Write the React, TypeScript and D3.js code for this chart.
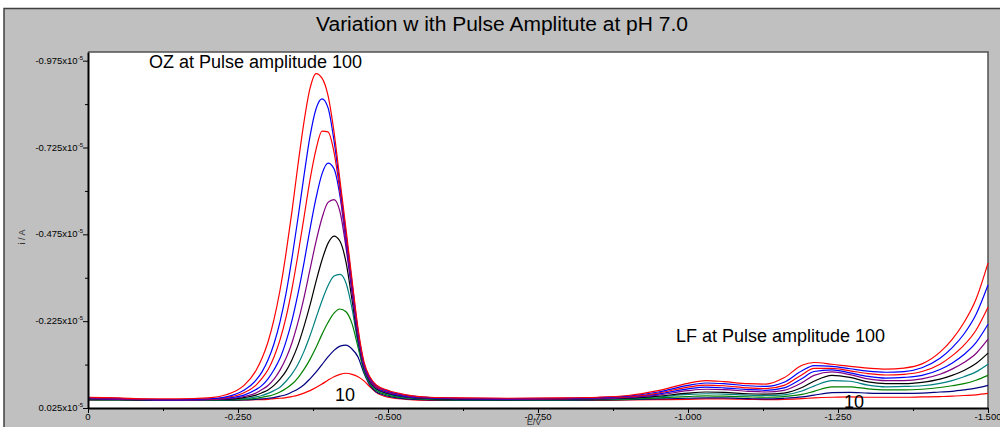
import React, { useEffect, useRef } from 'react';
import * as d3 from 'd3';

// E / V (shared by every curve)
const potentials = [
  0, -0.05, -0.10, -0.15, -0.20, -0.23, -0.26, -0.28, -0.29, -0.30, -0.31, -0.32, -0.33, -0.34,
  -0.35, -0.36, -0.37, -0.38, -0.39, -0.40, -0.41, -0.42, -0.43, -0.44, -0.45, -0.46, -0.47,
  -0.48, -0.50, -0.53, -0.57, -0.62, -0.70, -0.78, -0.85, -0.90, -0.95, -1.00, -1.03, -1.06,
  -1.10, -1.13, -1.16, -1.19, -1.21, -1.24, -1.27, -1.30, -1.33, -1.36, -1.39, -1.42, -1.44,
  -1.46, -1.48, -1.50,
];

// cathodic current magnitude, x10^-5 A (plotted upward)
const amp100 = [
  0.006, 0.004, 0.001, 0.001, 0.004, 0.013, 0.040, 0.083, 0.118, 0.165, 0.230, 0.314, 0.420, 0.542,
  0.676, 0.799, 0.895, 0.938, 0.925, 0.875, 0.770, 0.630, 0.490, 0.345, 0.205, 0.108, 0.064,
  0.042, 0.026, 0.013, 0.006, 0.004, 0.003, 0.004, 0.006, 0.011, 0.025, 0.046, 0.054, 0.051,
  0.045, 0.044, 0.062, 0.098, 0.106, 0.101, 0.095, 0.090, 0.087, 0.090, 0.102, 0.136, 0.172,
  0.221, 0.288, 0.392,
];
const amp90 = [
  0.005, 0.003, 0.000, -0.001, 0.001, 0.007, 0.026, 0.055, 0.079, 0.113, 0.160, 0.223, 0.304, 0.407,
  0.522, 0.644, 0.757, 0.836, 0.865, 0.840, 0.745, 0.615, 0.478, 0.337, 0.198, 0.103, 0.061,
  0.040, 0.024, 0.012, 0.005, 0.003, 0.002, 0.003, 0.005, 0.009, 0.021, 0.040, 0.047, 0.045,
  0.039, 0.037, 0.049, 0.082, 0.097, 0.095, 0.088, 0.081, 0.078, 0.080, 0.091, 0.118, 0.148,
  0.188, 0.244, 0.329,
];
const amp80 = [
  0.004, 0.002, 0.000, -0.001, 0.000, 0.005, 0.019, 0.041, 0.060, 0.085, 0.122, 0.171, 0.236, 0.319,
  0.417, 0.524, 0.632, 0.719, 0.772, 0.770, 0.712, 0.598, 0.465, 0.328, 0.192, 0.099, 0.058,
  0.037, 0.022, 0.011, 0.005, 0.003, 0.002, 0.002, 0.004, 0.007, 0.018, 0.035, 0.041, 0.039,
  0.033, 0.031, 0.040, 0.071, 0.089, 0.089, 0.082, 0.074, 0.070, 0.072, 0.080, 0.101, 0.125,
  0.156, 0.199, 0.265,
];
const amp70 = [
  0.003, 0.001, -0.001, -0.002, 0.000, 0.003, 0.012, 0.028, 0.040, 0.059, 0.085, 0.118, 0.166, 0.227,
  0.304, 0.393, 0.490, 0.579, 0.649, 0.680, 0.664, 0.585, 0.452, 0.318, 0.187, 0.096, 0.056,
  0.035, 0.020, 0.009, 0.004, 0.002, 0.001, 0.002, 0.003, 0.006, 0.015, 0.030, 0.035, 0.033,
  0.028, 0.026, 0.033, 0.060, 0.080, 0.085, 0.076, 0.066, 0.061, 0.063, 0.069, 0.086, 0.104,
  0.129, 0.163, 0.216,
];
const amp60 = [
  0.002, 0.000, -0.001, -0.002, -0.001, 0.001, 0.008, 0.018, 0.028, 0.040, 0.058, 0.084, 0.118, 0.163,
  0.222, 0.293, 0.374, 0.454, 0.522, 0.567, 0.575, 0.540, 0.437, 0.307, 0.181, 0.093, 0.053,
  0.033, 0.019, 0.008, 0.003, 0.001, 0.000, 0.001, 0.002, 0.005, 0.012, 0.025, 0.029, 0.028,
  0.023, 0.021, 0.026, 0.048, 0.069, 0.079, 0.071, 0.059, 0.054, 0.054, 0.059, 0.072, 0.087,
  0.106, 0.132, 0.173,
];
const amp50 = [
  0.001, 0.000, -0.002, -0.002, -0.001, 0.000, 0.005, 0.012, 0.019, 0.027, 0.040, 0.058, 0.081, 0.114,
  0.156, 0.210, 0.271, 0.339, 0.401, 0.449, 0.470, 0.455, 0.395, 0.287, 0.172, 0.089, 0.050,
  0.031, 0.017, 0.007, 0.002, 0.000, -0.001, 0.000, 0.001, 0.003, 0.009, 0.018, 0.021, 0.020,
  0.016, 0.015, 0.018, 0.034, 0.052, 0.069, 0.063, 0.050, 0.045, 0.045, 0.049, 0.058, 0.069,
  0.083, 0.103, 0.133,
];
const amp40 = [
  0.000, -0.001, -0.002, -0.003, -0.002, -0.001, 0.002, 0.007, 0.011, 0.017, 0.025, 0.035, 0.052, 0.073,
  0.101, 0.138, 0.183, 0.234, 0.284, 0.327, 0.355, 0.360, 0.335, 0.262, 0.160, 0.085, 0.047,
  0.029, 0.015, 0.005, 0.001, -0.001, -0.001, -0.001, 0.000, 0.002, 0.007, 0.014, 0.016, 0.015,
  0.012, 0.011, 0.013, 0.024, 0.038, 0.054, 0.052, 0.041, 0.036, 0.037, 0.039, 0.046, 0.054,
  0.065, 0.079, 0.101,
];
const amp30 = [
  -0.001, -0.002, -0.002, -0.003, -0.003, -0.002, 0.000, 0.003, 0.006, 0.009, 0.014, 0.021, 0.031, 0.044,
  0.062, 0.086, 0.115, 0.149, 0.187, 0.221, 0.248, 0.260, 0.252, 0.218, 0.150, 0.080, 0.044,
  0.026, 0.012, 0.004, 0.000, -0.002, -0.002, -0.002, -0.001, 0.000, 0.004, 0.008, 0.010, 0.009,
  0.007, 0.006, 0.008, 0.014, 0.023, 0.036, 0.036, 0.030, 0.027, 0.027, 0.029, 0.034, 0.039,
  0.045, 0.055, 0.069,
];
const amp20 = [
  -0.002, -0.002, -0.003, -0.003, -0.003, -0.003, -0.002, 0.000, 0.001, 0.003, 0.005, 0.009, 0.013, 0.021,
  0.030, 0.042, 0.059, 0.078, 0.100, 0.122, 0.141, 0.153, 0.156, 0.145, 0.122, 0.075, 0.040,
  0.022, 0.009, 0.001, -0.002, -0.003, -0.003, -0.003, -0.002, -0.001, 0.001, 0.003, 0.004, 0.004,
  0.002, 0.001, 0.003, 0.007, 0.012, 0.019, 0.020, 0.018, 0.017, 0.017, 0.018, 0.021, 0.023,
  0.027, 0.032, 0.040,
];
const amp10 = [
  -0.002, -0.002, -0.003, -0.003, -0.003, -0.003, -0.002, -0.001, -0.001, 0.000, 0.002, 0.003, 0.005, 0.008,
  0.012, 0.018, 0.025, 0.034, 0.044, 0.055, 0.065, 0.072, 0.075, 0.072, 0.065, 0.053, 0.036,
  0.020, 0.006, 0.000, -0.003, -0.003, -0.003, -0.003, -0.003, -0.002, -0.001, 0.000, 0.001, 0.001,
  0.000, -0.001, 0.000, 0.002, 0.004, 0.006, 0.007, 0.006, 0.006, 0.006, 0.007, 0.008, 0.009,
  0.011, 0.013, 0.017,
];

const seriesList = [amp100, amp90, amp80, amp70, amp60, amp50, amp40, amp30, amp20, amp10];
const seriesColors = ['#ff0000', '#0000ff', '#ff0000', '#0000ff', '#800080', '#000000', '#008080', '#008000', '#000080', '#ff0000'];

const xTicks = [0, -0.25, -0.5, -0.75, -1.0, -1.25, -1.5];
const xTickLabels = ['0', '-0.250', '-0.500', '-0.750', '-1.000', '-1.250', '-1.500'];
const xMinorTicks = [-0.125, -0.375, -0.625, -0.875, -1.125, -1.375];
const yTicks = [0.025, -0.225, -0.475, -0.725, -0.975];
const yTickLabels = ['0.025', '-0.225', '-0.475', '-0.725', '-0.975'];
const yMinorTicks = [-0.1, -0.35, -0.6, -0.85];

const title = 'Variation w ith Pulse Amplitute at pH 7.0';

const App = () => {
  const svgRef = useRef(null);

  useEffect(() => {
    const width = 1000;
    const height = 427;
    const margin = { top: 52, right: 12, bottom: 19, left: 88 };
    const font = '"Liberation Sans", Arial, sans-serif';

    const svg = d3.select(svgRef.current);
    svg.selectAll('*').remove();

    // grey frame
    svg.append('rect').attr('x', 4).attr('y', 8).attr('width', width - 4).attr('height', height - 8).attr('fill', '#c0c0c0');
    svg.append('path').attr('d', `M4,${height} V8.5 H${width}`).attr('fill', 'none').attr('stroke', '#404040').attr('stroke-width', 1.5);

    svg.append('text')
      .attr('x', 316).attr('y', 31)
      .attr('textLength', 372).attr('lengthAdjust', 'spacingAndGlyphs')
      .style('font-family', font).style('font-size', '20px')
      .text(title);

    const x = d3.scaleLinear().domain([0, -1.5]).range([margin.left, width - margin.right]);
    const y = d3.scaleLinear().domain([0.025, -1.0]).range([height - margin.bottom, margin.top]);

    const [x0, x1] = x.range();
    const [yb, yt] = y.range();

    svg.append('rect').attr('x', x0).attr('y', yt).attr('width', x1 - x0).attr('height', yb - yt).attr('fill', '#fff');
    svg.append('path').attr('d', `M${x0},${yt} H${x1} V${yb}`).attr('fill', 'none').attr('stroke', '#505050').attr('stroke-width', 1.5);

    // curves
    const line = d3.line()
      .x((d) => x(d[0]))
      .y((d) => y(-d[1]))
      .curve(d3.curveMonotoneX);

    const plot = svg.append('g');
    seriesList.slice().reverse().forEach((vals, k) => {
      const i = seriesList.length - 1 - k;
      plot.append('path')
        .datum(potentials.map((e, j) => [e, vals[j]]))
        .attr('d', line)
        .attr('fill', 'none')
        .attr('stroke', seriesColors[i])
        .attr('stroke-width', 1.2);
    });

    // x axis
    const xAxis = svg.append('g').attr('transform', `translate(0,${yb})`);
    xAxis.call(d3.axisBottom(x).tickValues(xTicks).tickSize(5).tickSizeOuter(0).tickFormat(() => ''));
    xAxis.append('g').call(d3.axisBottom(x).tickValues(xMinorTicks).tickSize(3).tickSizeOuter(0).tickFormat(() => ''))
      .select('.domain').remove();
    xAxis.selectAll('.tick line').attr('stroke', '#000');
    xAxis.select('.domain').attr('stroke', '#000').attr('stroke-width', 2);

    svg.append('g').selectAll('text').data(xTicks).enter().append('text')
      .attr('x', (d) => x(d)).attr('y', 420)
      .attr('text-anchor', 'middle')
      .style('font-family', font).style('font-size', '9.5px')
      .text((d, i) => xTickLabels[i]);

    svg.append('text')
      .attr('x', 534).attr('y', 425)
      .attr('text-anchor', 'middle')
      .style('font-family', font).style('font-size', '9px').attr('fill', '#333')
      .text('E/V');

    // y axis
    const yAxis = svg.append('g').attr('transform', `translate(${x0},0)`);
    yAxis.call(d3.axisLeft(y).tickValues(yTicks).tickSize(5).tickSizeOuter(0).tickFormat(() => ''));
    yAxis.append('g').call(d3.axisLeft(y).tickValues(yMinorTicks).tickSize(3).tickSizeOuter(0).tickFormat(() => ''))
      .select('.domain').remove();
    yAxis.select('.domain').attr('stroke', '#000').attr('stroke-width', 2);

    const yLab = svg.append('g').selectAll('text').data(yTicks).enter().append('text')
      .attr('x', x0 - 5).attr('y', (d) => y(d) + 3)
      .attr('text-anchor', 'end')
      .style('font-family', font).style('font-size', '9.5px');
    yLab.append('tspan').text((d, i) => `${yTickLabels[i]}x10`);
    yLab.append('tspan').attr('dy', -4).style('font-size', '6px').text('-5');

    svg.append('text')
      .attr('transform', 'translate(25,237) rotate(-90)')
      .attr('text-anchor', 'middle')
      .style('font-family', font).style('font-size', '9px').attr('fill', '#333')
      .text('i / A');

    // annotations
    const note = (tx, ty, s) => svg.append('text')
      .attr('x', tx).attr('y', ty)
      .style('font-family', font).style('font-size', '18px')
      .text(s);
    note(149, 68, 'OZ at Pulse amplitude 100');
    note(676, 342, 'LF at Pulse amplitude 100');
    note(335, 401, '10');
    note(844, 408, '10');
  }, []);

  return (
    <div style={{ position: 'absolute', left: 0, top: 0, width: 1000, height: 427 }}>
      <svg ref={svgRef} width={1000} height={427} style={{ display: 'block' }} />
    </div>
  );
};

export default App;
